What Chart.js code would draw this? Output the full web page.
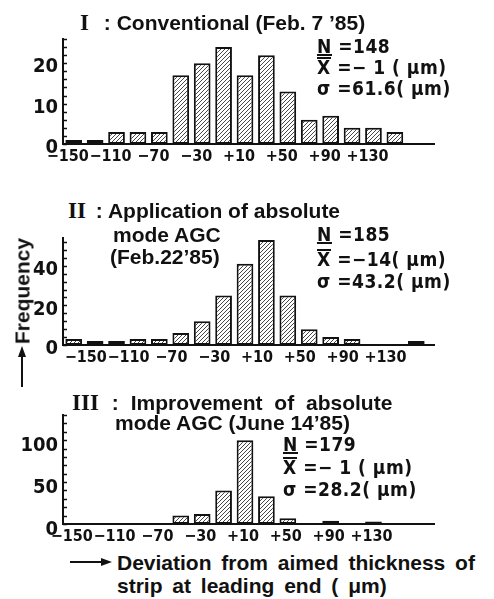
<!DOCTYPE html>
<html>
<head>
<meta charset="utf-8">
<script src="https://cdn.jsdelivr.net/npm/chart.js@4.4.1/dist/chart.umd.min.js"></script>
<style>
  body { margin: 0; background: #fff; }
  #wrap { position: relative; width: 494px; height: 599px; overflow: hidden; }
  canvas { position: absolute; left: 0; }
  .t { position: absolute; white-space: pre; color: #111; font-weight: bold; line-height: 1; }
  .ttl { font-family: "Liberation Sans", Arial, sans-serif; font-size: 21px; }
  .rom { font-family: "Liberation Serif", serif; font-size: 23px; }
  .st { font-family: "DejaVu Sans Condensed", "DejaVu Sans", sans-serif; font-size: 19px; letter-spacing: 0.5px; }
  .ul { display: inline-block; border-bottom: 2px solid #111; line-height: 15px; }
  .ol { display: inline-block; border-top: 2px solid #111; line-height: 15px; padding-top: 1px; }
  svg { position: absolute; left: 0; top: 0; }
</style>
</head>
<body>
<div id="wrap">
  <canvas id="c1" width="494" height="145" style="top:30px"></canvas>
  <canvas id="c2" width="494" height="145" style="top:225px"></canvas>
  <canvas id="c3" width="494" height="145" style="top:405px"></canvas>

  <!-- panel I -->
  <div class="t rom" style="left:80px;top:11px">I</div>
  <div class="t ttl" style="left:98px;top:12px"> : Conventional (Feb. 7 ’85)</div>
  <div class="t st" style="left:317px;top:37px"><span class="ul">N</span> =148</div>
  <div class="t st" style="left:317px;top:57px"><span class="ol">X</span> =− 1 ( μm)</div>
  <div class="t st" style="left:317px;top:79px">σ =61.6( μm)</div>

  <!-- panel II -->
  <div class="t rom" style="left:68px;top:199px">II</div>
  <div class="t ttl" style="left:90px;top:200px"> : Application of absolute</div>
  <div class="t ttl" style="left:113px;top:224px">mode AGC</div>
  <div class="t ttl" style="left:110px;top:246px">(Feb.22’85)</div>
  <div class="t st" style="left:317px;top:225px"><span class="ul">N</span> =185</div>
  <div class="t st" style="left:317px;top:249px"><span class="ol">X</span> =−14( μm)</div>
  <div class="t st" style="left:317px;top:272px">σ =43.2( μm)</div>
  <div class="t ttl" style="left:22px;top:291px;transform:translate(-50%,-50%) rotate(-90deg)">Frequency</div>

  <!-- panel III -->
  <div class="t rom" style="left:72px;top:391px">III</div>
  <div class="t ttl" style="left:100px;top:392px;word-spacing:6px"> : Improvement of absolute</div>
  <div class="t ttl" style="left:115px;top:412px">mode AGC (June 14’85)</div>
  <div class="t st" style="left:283px;top:435px"><span class="ul">N</span> =179</div>
  <div class="t st" style="left:283px;top:457px"><span class="ol">X</span> =− 1 ( μm)</div>
  <div class="t st" style="left:283px;top:480px">σ =28.2( μm)</div>

  <div class="t ttl" style="left:117px;top:552px;word-spacing:4px">Deviation from aimed thickness of</div>
  <div class="t ttl" style="left:117px;top:575px;word-spacing:4px">strip at leading end ( μm)</div>

  <svg width="494" height="599">
    <line x1="22" y1="387" x2="22" y2="354" stroke="#111" stroke-width="2"/>
    <polygon points="22,346 18,357 26,357" fill="#111"/>
    <line x1="70" y1="562" x2="104" y2="562" stroke="#111" stroke-width="2"/>
    <polygon points="112,562 101,558 101,566" fill="#111"/>
  </svg>
</div>
<script>
// bin centres of the deviation classes (µm)
const bins = [-150, -130, -110, -90, -70, -50, -30, -10, 10, 30, 50, 70, 90, 110, 130, 150, 170];
// only every other bin is labelled
const tickLabels = ['−150', '', '−110', '', '−70', '', '−30', '', '+10', '', '+50', '', '+90', '', '+130', '', ''];

// frequencies
const freqConventional = [1, 1, 3, 3, 3, 17, 20, 24, 17, 22, 13, 6, 7, 4, 4, 3, 0];
const freqAbsolute     = [3, 2, 2, 3, 3, 6, 12, 25, 41, 53, 25, 8, 4, 3, 0, 0, 2];
const freqImproved     = [0, 0, 0, 0, 0, 10, 12, 40, 100, 33, 7, 0, 4, 0, 3, 0, 0];

// diagonal hatch fill
function hatch() {
    const p = document.createElement('canvas');
    p.width = 4; p.height = 4;
    const c = p.getContext('2d');
    c.fillStyle = '#fff';
    c.fillRect(0, 0, 4, 4);
    c.strokeStyle = '#333';
    c.lineWidth = 0.9;
    c.beginPath();
    c.moveTo(-1, 5); c.lineTo(5, -1);
    c.moveTo(-1, 1); c.lineTo(1, -1);
    c.moveTo(3, 5); c.lineTo(5, 3);
    c.stroke();
    return c.createPattern(p, 'repeat');
}

// small ticks on the inner side of the y axis, and the x axis running a bit past the last bin
const innerTicks = {
    id: 'innerTicks',
    afterDraw(chart) {
        const { ctx, chartArea, scales } = chart;
        ctx.save();
        ctx.strokeStyle = '#111';
        ctx.lineWidth = 1.5;
        scales.y.ticks.forEach(t => {
            const py = Math.round(scales.y.getPixelForValue(t.value)) + 0.5;
            ctx.beginPath();
            ctx.moveTo(chartArea.left, py);
            ctx.lineTo(chartArea.left + 4, py);
            ctx.stroke();
        });
        ctx.lineWidth = 2;
        ctx.beginPath();
        ctx.moveTo(chartArea.right - 1, chartArea.bottom);
        ctx.lineTo(chartArea.right + 8, chartArea.bottom);
        ctx.stroke();
        ctx.restore();
    }
};

const tickFont = { family: '"DejaVu Sans Condensed", "DejaVu Sans", sans-serif', weight: 'bold' };

function makeHist(id, values, cfg) {
    const ctx = document.getElementById(id).getContext('2d');
    return new Chart(ctx, {
        type: 'bar',
        data: {
            labels: bins,
            datasets: [{
                data: values,
                backgroundColor: hatch(),
                borderColor: '#111',
                borderWidth: 2,
                borderSkipped: false,
                barPercentage: 0.78,
                categoryPercentage: 1
            }]
        },
        options: {
            responsive: false,
            animation: false,
            layout: { padding: { top: cfg.padTop, right: 67, left: 0, bottom: 0 } },
            plugins: { legend: { display: false }, tooltip: { enabled: false } },
            scales: {
                x: {
                    grid: { display: false, drawTicks: false },
                    border: { display: true, color: '#111', width: 2 },
                    ticks: {
                        autoSkip: false,
                        maxRotation: 0,
                        padding: 3,
                        labelOffset: cfg.labelOffset,
                        color: '#111',
                        font: Object.assign({ size: 16 }, tickFont),
                        callback: (v, i) => tickLabels[i]
                    },
                    afterFit: s => { s.height = cfg.xHeight; s.paddingLeft = 0; s.paddingRight = 0; }
                },
                y: {
                    min: 0,
                    max: cfg.max,
                    grid: { display: false, drawTicks: false },
                    border: { display: true, color: '#111', width: 2 },
                    ticks: {
                        autoSkip: false,
                        stepSize: cfg.step,
                        includeBounds: false,
                        padding: 5,
                        labelOffset: cfg.yLabelOffset,
                        color: '#111',
                        font: Object.assign({ size: 20 }, tickFont),
                        callback: v => (v % cfg.labelEvery === 0 ? v : '')
                    },
                    afterFit: s => { s.width = 63; s.paddingTop = 0; s.paddingBottom = 0; }
                }
            }
        },
        plugins: [innerTicks]
    });
}

makeHist('c1', freqConventional, { padTop: 9, xHeight: 31, max: 26, step: 2, labelEvery: 10, labelOffset: -6, yLabelOffset: 4 });
makeHist('c2', freqAbsolute, { padTop: 13, xHeight: 25, max: 54, step: 4, labelEvery: 20, labelOffset: 12, yLabelOffset: 4 });
makeHist('c3', freqImproved, { padTop: 10, xHeight: 26, max: 130, step: 10, labelEvery: 50, labelOffset: -2, yLabelOffset: 6 });
</script>
</body>
</html>
